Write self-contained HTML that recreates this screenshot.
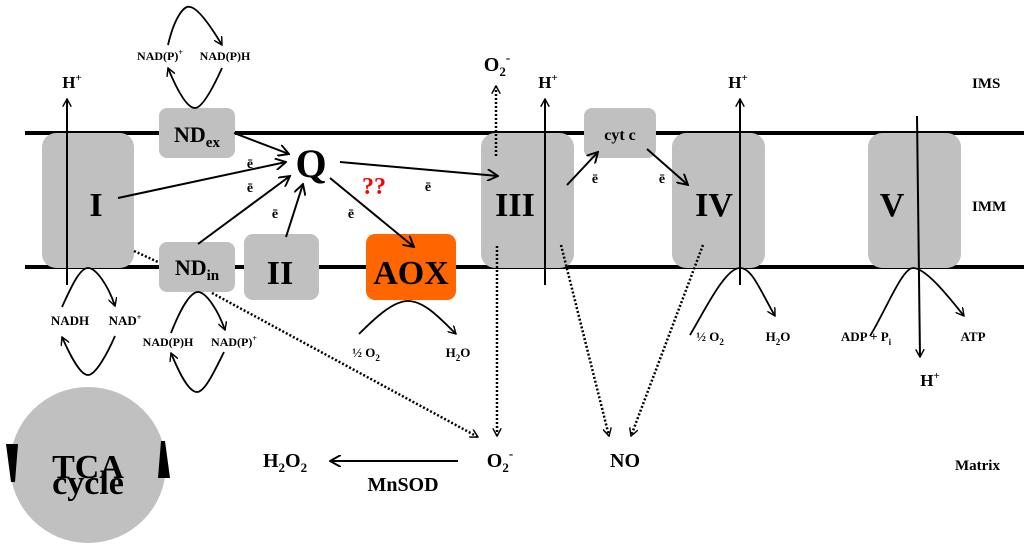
<!DOCTYPE html>
<html><head><meta charset="utf-8"><style>
html,body{margin:0;padding:0;background:#fff;}
svg{display:block;font-family:"Liberation Serif",serif;font-weight:bold;}
</style></head><body>
<svg width="1024" height="550" viewBox="0 0 1024 550" xmlns="http://www.w3.org/2000/svg">
<defs>
<marker id="a" viewBox="0 0 10 10" refX="9" refY="5" markerWidth="9" markerHeight="9" orient="auto" markerUnits="userSpaceOnUse"><path d="M0,0 L9,5 L0,10" fill="none" stroke="#000" stroke-width="1.6"/></marker>
<marker id="b" viewBox="0 0 10 10" refX="9" refY="5" markerWidth="12" markerHeight="12" orient="auto" markerUnits="userSpaceOnUse"><path d="M0,0 L9,5 L0,10" fill="none" stroke="#000" stroke-width="1.6"/></marker>
</defs>
<!-- membranes -->
<line x1="25" y1="133" x2="1024" y2="133" stroke="#000" stroke-width="4"/>
<line x1="25" y1="267" x2="1024" y2="267" stroke="#000" stroke-width="4"/>
<!-- boxes -->
<g fill="#c0c0c0">
<rect x="42" y="133" width="92" height="135" rx="14"/>
<rect x="159" y="108" width="76" height="50" rx="8"/>
<rect x="159" y="242" width="76" height="50" rx="8"/>
<rect x="244" y="234" width="75" height="66" rx="9"/>
<rect x="481" y="133" width="93" height="135" rx="14"/>
<rect x="584" y="108" width="72" height="50" rx="8"/>
<rect x="672" y="133" width="93" height="135" rx="14"/>
<rect x="868" y="133" width="93" height="135" rx="14"/>
<circle cx="88" cy="465" r="78"/>
</g>
<rect x="366" y="234" width="90" height="66" rx="9" fill="#ff6600"/>
<!-- TCA wedges -->
<path d="M6,444 L18,444 L15,482 L11,482 Z" fill="#000"/>
<path d="M161,441 L165,441 L170,478 L158,478 Z" fill="#000"/>
<!-- labels large -->
<g font-size="34" text-anchor="middle">
<text x="96" y="216">I</text>
<text x="280" y="284">II</text>
<text x="515" y="216">III</text>
<text x="714" y="216">IV</text>
<text x="892" y="216">V</text>
<text x="411" y="284">AOX</text>
<text x="311" y="177" font-size="40">Q</text>
</g>
<text x="197" y="142" font-size="22" text-anchor="middle">ND<tspan font-size="15" dy="5">ex</tspan></text>
<text x="197" y="275" font-size="22" text-anchor="middle">ND<tspan font-size="15" dy="5">in</tspan></text>
<text x="620" y="140" font-size="16" text-anchor="middle">cyt c</text>
<text x="374" y="194" font-size="24" fill="#ff0000" text-anchor="middle">??</text>
<text x="88" y="478" font-size="34" text-anchor="middle">TCA</text>
<text x="88" y="495" font-size="34" text-anchor="middle" dy="0"><tspan y="494">cycle</tspan></text>
<!-- side labels -->
<g font-size="15">
<text x="972" y="88">IMS</text>
<text x="972" y="211">IMM</text>
<text x="955" y="470">Matrix</text>
</g>
<!-- H+ arrows -->
<g stroke="#000" stroke-width="2" fill="none">
<line x1="67" y1="285" x2="67" y2="99" marker-end="url(#a)"/>
<line x1="545" y1="285" x2="545" y2="99" marker-end="url(#a)"/>
<line x1="740" y1="285" x2="740" y2="99" marker-end="url(#a)"/>
<line x1="917" y1="116" x2="920" y2="357" marker-end="url(#a)"/>
</g>
<g font-size="17" text-anchor="middle">
<text x="72" y="88">H<tspan font-size="11" dy="-7">+</tspan></text>
<text x="548" y="88">H<tspan font-size="11" dy="-7">+</tspan></text>
<text x="738" y="88">H<tspan font-size="11" dy="-7">+</tspan></text>
<text x="930" y="386">H<tspan font-size="11" dy="-7">+</tspan></text>
</g>
<!-- electron arrows -->
<g stroke="#000" stroke-width="2" fill="none" marker-end="url(#b)">
<line x1="234" y1="133" x2="289" y2="154"/>
<line x1="118" y1="198" x2="286" y2="162"/>
<line x1="198" y1="244" x2="290" y2="176"/>
<line x1="286" y1="237" x2="303" y2="184"/>
<line x1="340" y1="162" x2="498" y2="176"/>
<line x1="330" y1="178" x2="414" y2="247"/>
<line x1="567" y1="185" x2="598" y2="152"/>
<line x1="647" y1="149" x2="688" y2="185"/>
</g>
<g font-size="14" text-anchor="middle">
<text x="250" y="168">ē</text>
<text x="250" y="192">ē</text>
<text x="275" y="218">ē</text>
<text x="351" y="218">ē</text>
<text x="428" y="191">ē</text>
<text x="595" y="183">ē</text>
<text x="662" y="183">ē</text>
</g>
<!-- curved arrows -->
<g stroke="#000" stroke-width="1.8" fill="none">
<path d="M168,45 C175,15 185,5 190,7 C198,8 210,25 222,45" marker-end="url(#a)"/>
<path d="M222,68 C212,90 202,108 195,108 C186,108 175,85 168,68" marker-end="url(#a)"/>
<path d="M62,307 C72,285 80,268 88,268 C96,268 108,285 115,306" marker-end="url(#a)"/>
<path d="M115,336 C108,352 96,375 88,375 C80,375 70,355 62,337" marker-end="url(#a)"/>
<path d="M171,333 C180,310 190,292 198,292 C206,292 218,310 225,330" marker-end="url(#a)"/>
<path d="M224,352 C215,370 205,392 197,392 C188,392 178,370 171,353" marker-end="url(#a)"/>
<path d="M359,334 C375,318 393,301 408,301 C424,301 440,318 456,334" marker-end="url(#a)"/>
<path d="M690,335 C705,310 725,268 740,268 C752,268 760,290 775,316" marker-end="url(#a)"/>
<path d="M870,336 C885,312 902,268 913,268 C925,268 945,292 964,316" marker-end="url(#a)"/>
</g>
<g font-size="12" text-anchor="middle">
<text x="160" y="60">NAD(P)<tspan font-size="8" dy="-5">+</tspan></text>
<text x="225" y="60">NAD(P)H</text>
<text x="168" y="346">NAD(P)H</text>
<text x="234" y="346">NAD(P)<tspan font-size="8" dy="-5">+</tspan></text>
</g>
<g font-size="13" text-anchor="middle">
<text x="70" y="325">NADH</text>
<text x="125" y="325">NAD<tspan font-size="8" dy="-5">+</tspan></text>
<text x="366" y="357">½ O<tspan font-size="9" dy="4">2</tspan></text>
<text x="458" y="357">H<tspan font-size="9" dy="4">2</tspan><tspan dy="-4">O</tspan></text>
<text x="710" y="341">½ O<tspan font-size="9" dy="4">2</tspan></text>
<text x="778" y="341">H<tspan font-size="9" dy="4">2</tspan><tspan dy="-4">O</tspan></text>
<text x="866" y="341">ADP + P<tspan font-size="9" dy="4">i</tspan></text>
<text x="973" y="341">ATP</text>
</g>
<!-- dotted ROS -->
<g stroke="#000" stroke-width="2.5" fill="none" stroke-dasharray="2,2">
<line x1="496" y1="156" x2="496" y2="86" marker-end="url(#a)"/>
<line x1="497" y1="246" x2="497" y2="436" marker-end="url(#a)"/>
<line x1="561" y1="245" x2="609" y2="436" marker-end="url(#a)"/>
<line x1="703" y1="245" x2="631" y2="436" marker-end="url(#a)"/>
<line x1="212" y1="293" x2="478" y2="437" marker-end="url(#a)"/>
<line x1="134" y1="251" x2="158" y2="262"/>
</g>
<g font-size="20" text-anchor="middle">
<text x="497" y="71">O<tspan font-size="13" dy="5">2</tspan><tspan font-size="13" dy="-14">-</tspan></text>
<text x="500" y="467">O<tspan font-size="13" dy="5">2</tspan><tspan font-size="13" dy="-14">-</tspan></text>
<text x="625" y="467">NO</text>
<text x="285" y="467">H<tspan font-size="13" dy="5">2</tspan><tspan dy="-5">O</tspan><tspan font-size="13" dy="5">2</tspan></text>
<text x="403" y="491">MnSOD</text>
</g>
<line x1="458" y1="461" x2="330" y2="461" stroke="#000" stroke-width="2" marker-end="url(#b)"/>
</svg>
</body></html>
